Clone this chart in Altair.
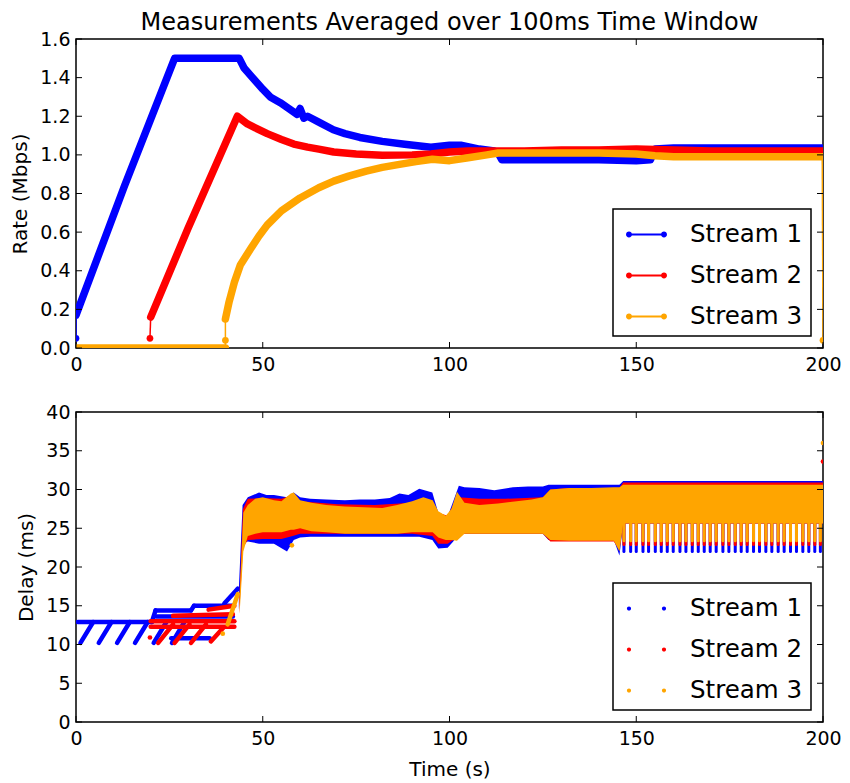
import altair as alt
import pandas as pd

FONT = "DejaVu Sans"
W, H1, H2 = 747, 309, 310
STREAMS = ["Stream 1", "Stream 2", "Stream 3"]
COLORS = ["#0000ff", "#ff0000", "#ffa500"]

X_TICKS = [0, 50, 100, 150, 200]
RATE_TICKS = [0.0, 0.2, 0.4, 0.6, 0.8, 1.0, 1.2, 1.4, 1.6]
DELAY_TICKS = [0, 5, 10, 15, 20, 25, 30, 35, 40]

# ---------------- Rate (Mbps) ----------------
s1_rate_t = [0, 13, 26.4, 30, 35, 40, 43.7, 45, 47.7, 50, 52, 54.7, 57, 59.2, 60, 61, 62, 65, 68.9, 72,
             76, 82, 88, 95, 100, 103, 108, 112, 113, 114, 120, 130, 140, 150, 153.8, 155, 160, 170, 180,
             190, 199.8]
s1_rate_v = [0.17, 0.84, 1.5, 1.5, 1.5, 1.5, 1.5, 1.45, 1.39, 1.34, 1.30, 1.27, 1.24, 1.21, 1.24, 1.19,
             1.20, 1.17, 1.13, 1.11, 1.09, 1.07, 1.055, 1.04, 1.05, 1.05, 1.03, 1.02, 1.01, 0.975, 0.975,
             0.975, 0.975, 0.97, 0.975, 1.03, 1.035, 1.035, 1.035, 1.035, 1.035]

s2_rate_t = [20, 30, 43.2, 45.9, 48, 51.2, 55, 58.3, 62, 65, 69, 75, 82, 90, 95, 100, 105, 110, 120, 130,
             140, 150, 160, 170, 180, 190, 199.8]
s2_rate_v = [0.16, 0.62, 1.20, 1.16, 1.14, 1.11, 1.08, 1.056, 1.04, 1.03, 1.015, 1.005, 0.998, 1.0, 1.005,
             1.015, 1.02, 1.02, 1.02, 1.025, 1.025, 1.03, 1.025, 1.02, 1.02, 1.02, 1.02]

s3_rate_t = [40, 41, 42.4, 44, 46.8, 49, 51.2, 55, 60, 65, 69, 73, 77.7, 82, 86.6, 91, 95.4, 100, 105, 110,
             113, 120, 130, 140, 150, 155, 160, 170, 180, 190, 199.8]
s3_rate_v = [0.15, 0.24, 0.34, 0.43, 0.515, 0.58, 0.637, 0.71, 0.777, 0.83, 0.864, 0.89, 0.916, 0.935,
             0.951, 0.965, 0.977, 0.97, 0.985, 1.0, 1.01, 1.01, 1.01, 1.01, 1.005, 0.995, 0.99, 0.99, 0.99,
             0.99, 0.99]

s3_zero_t = [0, 40]
s3_zero_v = [0.0, 0.0]

# thin connecting segments (start-up / shut-down jumps)
lead_stream = ["Stream 1", "Stream 1", "Stream 2", "Stream 2", "Stream 3", "Stream 3", "Stream 3", "Stream 3"]
lead_seg = ["a", "a", "b", "b", "c", "c", "d", "d"]
lead_t = [0, 0, 19.8, 20, 40, 40, 199.8, 200]
lead_v = [0.05, 0.17, 0.05, 0.16, 0.0, 0.15, 0.99, 0.04]

dot_stream = ["Stream 1", "Stream 2", "Stream 3", "Stream 3"]
dot_t = [0, 19.8, 40, 200]
dot_v = [0.05, 0.05, 0.04, 0.04]

# ---------------- Delay (ms) ----------------
# early segments before the queue builds up: (stream, t0, v0, t1, v1)
pre_stream = ["Stream 1"] * 14 + ["Stream 2"] * 8 + ["Stream 3"] * 1
pre_t0 = [0.5, 1.2, 6.1, 11.0, 15.8, 20.3, 21.3, 30.8, 31.6, 20.8, 25.7, 25.5, 21.5, 39.7,
          20.0, 20.0, 26.0, 35.5, 22.0, 26.4, 30.8, 36.1,
          40.6]
pre_v0 = [12.9, 10.2, 10.2, 10.2, 10.2, 12.9, 14.4, 14.4, 15.0, 10.2, 10.2, 10.8, 13.6, 15.3,
          12.3, 13.0, 13.7, 14.5, 10.2, 10.2, 10.2, 10.4,
          12.6]
pre_t1 = [20.3, 4.6, 9.5, 14.4, 19.2, 21.3, 30.8, 31.6, 42.0, 24.2, 29.0, 35.8, 42.0, 43.3,
          42.4, 42.4, 42.0, 42.4, 26.0, 30.4, 34.8, 39.5,
          43.3]
pre_v1 = [12.9, 12.9, 12.9, 12.9, 12.9, 14.4, 14.4, 15.0, 15.0, 12.9, 12.9, 10.8, 13.6, 17.2,
          12.3, 13.0, 13.9, 15.0, 12.6, 12.6, 12.6, 12.2,
          16.5]

# oscillating delay bands (outer envelope) after t = 44 s
s1_band_t = [43.6, 44.6, 46, 49, 51, 53, 56.5, 58.3, 60, 62.7, 67, 72, 76, 80, 84, 86.6, 89, 91.9, 95.4, 97,
             99.5, 101, 102.5, 104, 108, 112, 117, 121, 125, 126.5, 132, 138, 144, 145.5, 146.5, 200]
s1_band_lo = [14.5, 23.0, 23.3, 23.0, 23.0, 23.0, 22.0, 23.5, 23.8, 23.9, 23.9, 23.9, 23.9, 23.9, 23.9, 23.9,
              23.9, 23.9, 23.5, 22.4, 22.5, 23.3, 24.3, 24.3, 24.3, 24.3, 24.3, 24.3, 24.3, 23.5, 23.5, 23.5,
              23.5, 21.5, 25.6, 25.6]
s1_band_hi = [17.2, 28.0, 29.0, 29.6, 29.3, 29.3, 29.0, 29.6, 29.0, 28.8, 28.7, 28.6, 28.7, 28.7, 28.9, 29.5,
              29.3, 30.1, 29.6, 27.0, 26.5, 28.5, 30.5, 30.3, 30.2, 29.9, 30.3, 30.4, 30.4, 30.6, 30.6, 30.6,
              30.6, 30.6, 31.1, 31.1]

s2_band_t = [43.7, 44.7, 46, 50, 55, 58, 60, 65, 70, 80, 90, 95.4, 97, 99.5, 101, 102.5, 108, 115, 125, 127,
             132, 138, 144, 145.5, 146.5, 200]
s2_band_lo = [14.0, 22.5, 23.5, 23.6, 23.6, 24.0, 24.3, 24.3, 24.3, 24.3, 24.3, 24.0, 23.0, 23.0, 23.5, 24.3,
              24.3, 24.3, 24.3, 23.3, 23.3, 23.3, 23.3, 22.2, 25.6, 25.6]
s2_band_hi = [15.5, 27.5, 28.8, 28.9, 28.8, 29.3, 28.5, 28.3, 28.1, 28.0, 28.3, 28.5, 27.0, 26.6, 28.0, 29.0,
              28.8, 28.8, 29.0, 30.0, 30.2, 30.2, 30.2, 30.2, 30.9, 30.9]

s3_band_t = [43.8, 44.8, 46, 48, 50, 53, 55, 57.5, 58.3, 60, 63, 67, 72, 77, 82, 86, 90, 93, 95.5, 97,
             99, 100.5, 102, 104, 108, 113, 118, 122, 125, 127, 132, 138, 144, 145.5, 146.5, 200]
s3_band_lo = [14.0, 22.0, 24.0, 24.3, 24.5, 24.5, 24.5, 24.8, 24.8, 25.0, 24.6, 24.5, 24.3, 24.3, 24.3, 24.3,
              24.5, 24.5, 24.5, 23.8, 23.5, 23.5, 23.4, 24.3, 24.3, 24.3, 24.3, 24.3, 24.3, 23.5, 23.4, 23.4,
              23.4, 22.0, 25.6, 25.6]
s3_band_hi = [16.0, 27.0, 28.0, 28.8, 29.0, 28.6, 28.5, 29.5, 29.6, 28.6, 28.3, 28.0, 27.8, 27.7, 27.6, 28.0,
              28.5, 29.0, 28.6, 27.2, 26.6, 27.5, 29.7, 28.3, 28.0, 28.2, 28.5, 28.7, 29.0, 30.0, 30.2, 30.2,
              30.3, 30.3, 30.6, 30.6]

# downward teeth of the periodic delay oscillation (t > 146 s)
tooth_t = [146.7, 148.5, 150.0, 151.8, 153.3, 155.1, 156.7, 158.3, 159.9, 161.7, 163.3, 165.0, 166.6, 168.2,
           169.8, 171.4, 173.2, 174.8, 176.5, 178.1, 179.7, 181.4, 183.0, 184.7, 186.3, 188.0, 189.6, 191.3,
           192.9, 194.6, 196.2, 197.8, 199.3]
tooth_top = [25.6, 25.6, 25.6]
tooth_bottom = [22.0, 22.9, 23.4]

stray_stream = ["Stream 2", "Stream 3", "Stream 3", "Stream 2", "Stream 3"]
stray_t = [19.8, 39.3, 57.8, 200, 200]
stray_v = [10.9, 11.4, 22.8, 33.6, 36.0]

# ---------------- tables ----------------
rate_rows = []
for s, seg, ts, vs in [("Stream 1", "m1", s1_rate_t, s1_rate_v),
                       ("Stream 2", "m2", s2_rate_t, s2_rate_v),
                       ("Stream 3", "z3", s3_zero_t, s3_zero_v),
                       ("Stream 3", "m3", s3_rate_t, s3_rate_v)]:
    for t, v in zip(ts, vs):
        rate_rows.append({"stream": s, "seg": seg, "t": t, "v": v})
rate_df = pd.DataFrame(rate_rows)
lead_df = pd.DataFrame({"stream": lead_stream, "seg": lead_seg, "t": lead_t, "v": lead_v})
dot_df = pd.DataFrame({"stream": dot_stream, "t": dot_t, "v": dot_v})

pre_df = pd.DataFrame({"stream": pre_stream, "t0": pre_t0, "v0": pre_v0, "t1": pre_t1, "v1": pre_v1})
band_rows = []
for s, ts, lo, hi in [("Stream 1", s1_band_t, s1_band_lo, s1_band_hi),
                      ("Stream 2", s2_band_t, s2_band_lo, s2_band_hi),
                      ("Stream 3", s3_band_t, s3_band_lo, s3_band_hi)]:
    for t, a, b in zip(ts, lo, hi):
        band_rows.append({"stream": s, "t": t, "lo": a, "hi": b})
band_df = pd.DataFrame(band_rows)
tooth_rows = []
for s, top, bot in zip(STREAMS, tooth_top, tooth_bottom):
    for t in tooth_t:
        tooth_rows.append({"stream": s, "t": t, "top": top, "bot": bot})
tooth_df = pd.DataFrame(tooth_rows)
stray_df = pd.DataFrame({"stream": stray_stream, "t": stray_t, "v": stray_v})

xt_df = pd.DataFrame({"t": X_TICKS})
rt_df = pd.DataFrame({"v": RATE_TICKS})
dt_df = pd.DataFrame({"v": DELAY_TICKS})

# ---------------- scales / axes ----------------
# colour of the data marks (domain taken from the data, sorted Stream 1..3)
color_scale = alt.Scale(range=COLORS)
# scale used only for the legend
legend_scale = alt.Scale(domain=STREAMS, range=COLORS)
x_scale = alt.Scale(domain=[0, 200], nice=False, zero=False)
rate_scale = alt.Scale(domain=[0, 1.6], nice=False)
delay_scale = alt.Scale(domain=[0, 40], nice=False)

common_axis = dict(ticks=False, domain=False, grid=False, labelFont=FONT, labelFontSize=19,
                   labelColor="black", labelFlush=False, labelOverlap=False, titleFont=FONT,
                   titleFontSize=20, titleFontWeight="normal", titleColor="black")
x_axis_top = alt.Axis(values=X_TICKS, title=None, labelPadding=7, **common_axis)
x_axis_bot = alt.Axis(values=X_TICKS, title="Time (s)", labelPadding=7, titlePadding=11, **common_axis)
y_axis_rate = alt.Axis(values=RATE_TICKS, format=".1f", title="Rate (Mbps)", labelPadding=6,
                       titlePadding=9, **common_axis)
y_axis_delay = alt.Axis(values=DELAY_TICKS, format="d", title="Delay (ms)", labelPadding=6,
                        titlePadding=9, **common_axis)

TOP_SYMBOL = ("M-1,-0.06L1,-0.06L1,0.06L-1,0.06Z "
              "M-1.17,0A0.17,0.17 0 1,1 -0.83,0A0.17,0.17 0 1,1 -1.17,0Z "
              "M0.83,0A0.17,0.17 0 1,1 1.17,0A0.17,0.17 0 1,1 0.83,0Z")
BOT_SYMBOL = ("M-1.12,0A0.12,0.12 0 1,1 -0.88,0A0.12,0.12 0 1,1 -1.12,0Z "
              "M0.88,0A0.12,0.12 0 1,1 1.12,0A0.12,0.12 0 1,1 0.88,0Z")

legend_common = dict(title=None, orient="bottom-right", offset=12, symbolSize=1225, labelFont=FONT,
                     labelFontSize=24.5, labelColor="black", labelOffset=26, rowPadding=12, padding=8,
                     symbolOffset=8, strokeColor="black", fillColor="white", symbolStrokeWidth=0,
                     symbolOpacity=1)


def tick_layers(data_y, yscale, yaxis, xaxis, h):
    xb = alt.Chart(xt_df).mark_rule(color="black", strokeWidth=1).encode(
        x=alt.X("t:Q", scale=x_scale, axis=xaxis), y=alt.value(h), y2=alt.value(h - 6))
    xtp = alt.Chart(xt_df).mark_rule(color="black", strokeWidth=1).encode(
        x=alt.X("t:Q", scale=x_scale, axis=xaxis), y=alt.value(0), y2=alt.value(6))
    yl = alt.Chart(data_y).mark_rule(color="black", strokeWidth=1).encode(
        y=alt.Y("v:Q", scale=yscale, axis=yaxis), x=alt.value(0), x2=alt.value(6))
    yr = alt.Chart(data_y).mark_rule(color="black", strokeWidth=1).encode(
        y=alt.Y("v:Q", scale=yscale, axis=yaxis), x=alt.value(W), x2=alt.value(W - 6))
    return [xb, xtp, yl, yr]


# ---------------- top chart ----------------
top_layers = []
for s in STREAMS:
    top_layers.append(
        alt.Chart(rate_df).transform_filter(alt.datum.stream == s).mark_line(
            strokeWidth=7.5, strokeCap="round", strokeJoin="round", clip=True).encode(
            x=alt.X("t:Q", scale=x_scale, axis=x_axis_top),
            y=alt.Y("v:Q", scale=rate_scale, axis=y_axis_rate),
            color=alt.Color("stream:N", scale=color_scale, legend=None),
            detail="seg:N"))
top_layers.append(
    alt.Chart(lead_df).mark_line(strokeWidth=1.5, clip=True).encode(
        x=alt.X("t:Q", scale=x_scale, axis=x_axis_top),
        y=alt.Y("v:Q", scale=rate_scale, axis=y_axis_rate),
        color=alt.Color("stream:N", scale=color_scale, legend=None),
        detail="seg:N"))
top_layers.append(
    alt.Chart(dot_df).mark_circle(size=45, opacity=1, clip=True).encode(
        x=alt.X("t:Q", scale=x_scale, axis=x_axis_top),
        y=alt.Y("v:Q", scale=rate_scale, axis=y_axis_rate),
        fill=alt.Fill("stream:N", scale=legend_scale,
                      legend=alt.Legend(symbolType=TOP_SYMBOL, **legend_common))))
top_layers += tick_layers(rt_df, rate_scale, y_axis_rate, x_axis_top, H1)

top = alt.layer(*top_layers).properties(
    width=W, height=H1,
    title=alt.TitleParams("Measurements Averaged over 100ms Time Window", font=FONT, fontSize=24,
                          fontWeight="normal", color="black", anchor="middle", frame="group",
                          offset=-5))

# ---------------- bottom chart ----------------
bot_layers = []
for s in STREAMS:
    bot_layers.append(
        alt.Chart(pre_df).transform_filter(alt.datum.stream == s).mark_rule(
            strokeWidth=4.5, strokeCap="round", clip=True).encode(
            x=alt.X("t0:Q", scale=x_scale, axis=x_axis_bot), x2="t1:Q",
            y=alt.Y("v0:Q", scale=delay_scale, axis=y_axis_delay), y2="v1:Q",
            color=alt.Color("stream:N", scale=color_scale, legend=None)))
    bot_layers.append(
        alt.Chart(band_df).transform_filter(alt.datum.stream == s).mark_area(
            opacity=1, clip=True, interpolate="linear").encode(
            x=alt.X("t:Q", scale=x_scale, axis=x_axis_bot),
            y=alt.Y("lo:Q", scale=delay_scale, axis=y_axis_delay), y2="hi:Q",
            color=alt.Color("stream:N", scale=color_scale, legend=None)))
    bot_layers.append(
        alt.Chart(tooth_df).transform_filter(alt.datum.stream == s).mark_rule(
            strokeWidth=3, strokeCap="round", clip=True).encode(
            x=alt.X("t:Q", scale=x_scale, axis=x_axis_bot),
            y=alt.Y("bot:Q", scale=delay_scale, axis=y_axis_delay), y2="top:Q",
            color=alt.Color("stream:N", scale=color_scale, legend=None)))
bot_layers.append(
    alt.Chart(stray_df).mark_circle(size=22, opacity=1, clip=True).encode(
        x=alt.X("t:Q", scale=x_scale, axis=x_axis_bot),
        y=alt.Y("v:Q", scale=delay_scale, axis=y_axis_delay),
        fill=alt.Fill("stream:N", scale=legend_scale,
                      legend=alt.Legend(symbolType=BOT_SYMBOL, **legend_common))))
bot_layers += tick_layers(dt_df, delay_scale, y_axis_delay, x_axis_bot, H2)

bottom = alt.layer(*bot_layers).properties(width=W, height=H2)

chart = alt.vconcat(top, bottom, spacing=27).resolve_scale(
    color="independent", fill="independent").resolve_legend(fill="independent").properties(
    padding={"left": 2, "top": 2, "right": 0, "bottom": 0}
).configure_view(stroke="black", strokeWidth=1.5).configure_legend(strokeWidth=1.5)

chart.save("out.html", embed_options={"renderer": "svg", "actions": False})
